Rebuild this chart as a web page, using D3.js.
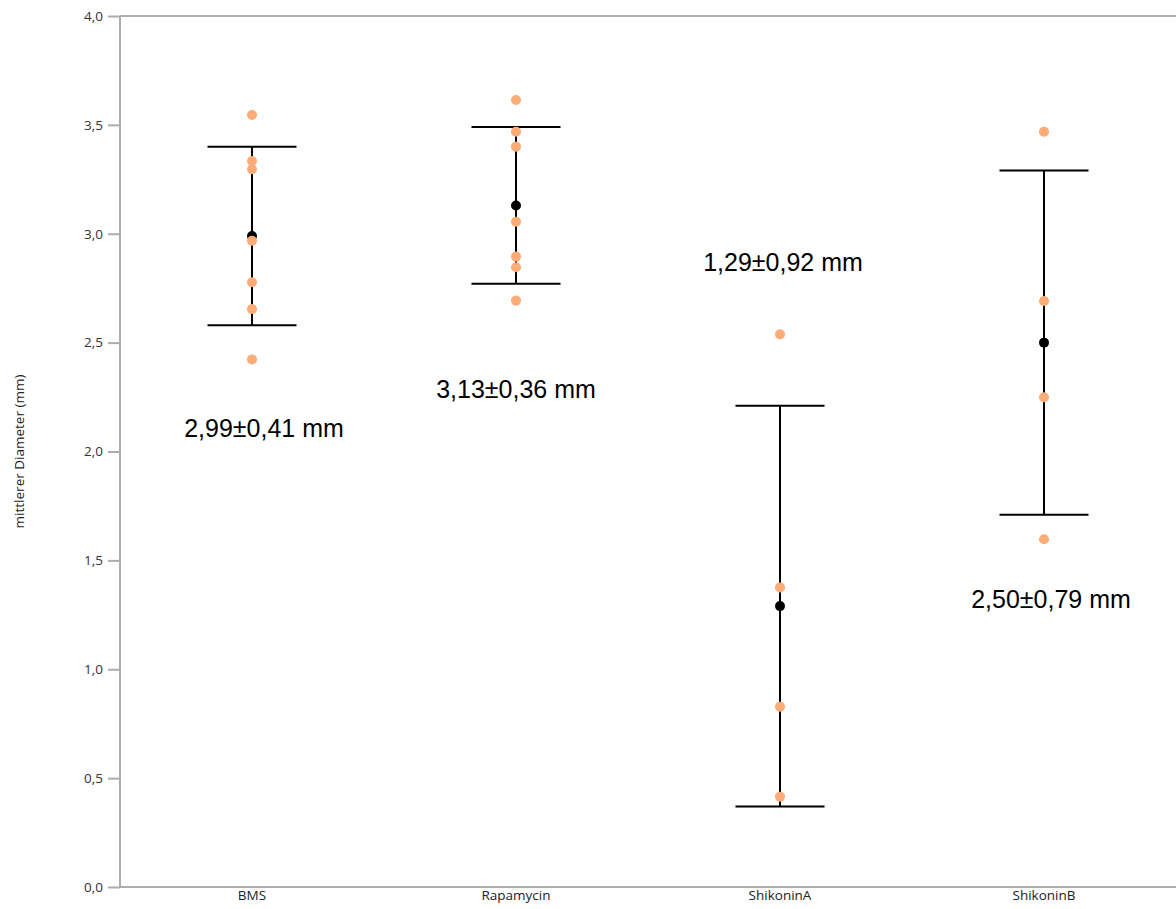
<!DOCTYPE html>
<html>
<head>
<meta charset="utf-8">
<script src="https://cdn.jsdelivr.net/npm/d3@7"></script>
<style>
  html, body { margin: 0; padding: 0; background: #fff; }
  svg { display: block; }
</style>
</head>
<body>
<svg id="chart" width="1176" height="909"></svg>
<script>
// Groups on the x axis
const categories = ["BMS", "Rapamycin", "ShikoninA", "ShikoninB"];

// Individual diameter measurements (mm) per group
const valuesBMS = [3.545, 3.334, 3.296, 2.968, 2.777, 2.654, 2.423];
const valuesRapamycin = [3.614, 3.469, 3.400, 3.055, 2.895, 2.846, 2.693];
const valuesShikoninA = [2.538, 1.376, 0.828, 0.415];
const valuesShikoninB = [3.469, 2.691, 2.249, 1.597];

// Group mean and standard deviation (mm)
const means = [2.99, 3.13, 1.29, 2.50];
const sds = [0.41, 0.36, 0.92, 0.79];

// Value (mm) at which each summary label's baseline sits
const labelAnchors = [2.066, 2.245, 2.83, 1.28];

// Y axis ticks
const yTicks = [0, 0.5, 1.0, 1.5, 2.0, 2.5, 3.0, 3.5, 4.0];
const yLabel = "mittlerer Diameter (mm)";

const groups = [valuesBMS, valuesRapamycin, valuesShikoninA, valuesShikoninB];
const labelDx = [12, 0, 3, 7];

const svg = d3.select("#chart");
const W = 1176, H = 909;
const mLeft = 120, mTop = 16, mBottom = 887;

const x = d3.scaleBand().domain(categories).range([mLeft, W]).padding(0);
const y = d3.scaleLinear().domain([0, 4]).range([mBottom, mTop]);
const cx = c => x(c) + x.bandwidth() / 2;

const fmt = v => d3.format(".2f")(v).replace(".", ",");
const tickFmt = v => d3.format(".1f")(v).replace(".", ",");
const axisColor = "#acacac";
const textFont = "'Open Sans', 'Noto Sans', sans-serif";

// Y axis
const yAxis = svg.append("g")
  .attr("transform", `translate(${mLeft},0)`)
  .call(d3.axisLeft(y).tickValues(yTicks).tickFormat(tickFmt).tickSize(12).tickPadding(5));
yAxis.selectAll("path, line").attr("stroke", axisColor).attr("stroke-width", 2);
yAxis.select(".domain").attr("d", `M0,${mTop}V${mBottom}`);
yAxis.selectAll("text")
  .attr("font-family", textFont)
  .attr("font-size", 13.5)
  .attr("fill", "#333");

// Horizontal frame lines at top and bottom of the value range
svg.append("g").selectAll("line")
  .data([0, 4])
  .join("line")
  .attr("x1", mLeft).attr("x2", W)
  .attr("y1", d => y(d)).attr("y2", d => y(d))
  .attr("stroke", axisColor).attr("stroke-width", 2);

// Category labels
svg.append("g").selectAll("text")
  .data(categories)
  .join("text")
  .attr("x", d => cx(d))
  .attr("y", 900)
  .attr("text-anchor", "middle")
  .attr("font-family", textFont)
  .attr("font-size", 13.5)
  .attr("fill", "#222")
  .text(d => d);

// Y axis title
svg.append("text")
  .attr("transform", `translate(24,${(mTop + mBottom) / 2}) rotate(-90)`)
  .attr("text-anchor", "middle")
  .attr("font-family", textFont)
  .attr("font-size", 13.5)
  .attr("fill", "#222")
  .text(yLabel);

// Error bars: mean ± SD
const capHalf = 44.5;
const eb = svg.append("g").attr("stroke", "#000").attr("stroke-width", 2);
categories.forEach((c, i) => {
  const hi = means[i] + sds[i], lo = means[i] - sds[i];
  eb.append("line").attr("x1", cx(c)).attr("x2", cx(c)).attr("y1", y(hi)).attr("y2", y(lo));
  eb.append("line").attr("x1", cx(c) - capHalf).attr("x2", cx(c) + capHalf).attr("y1", y(hi)).attr("y2", y(hi));
  eb.append("line").attr("x1", cx(c) - capHalf).attr("x2", cx(c) + capHalf).attr("y1", y(lo)).attr("y2", y(lo));
});

// Mean markers
svg.append("g").selectAll("circle")
  .data(categories)
  .join("circle")
  .attr("cx", d => cx(d))
  .attr("cy", (d, i) => y(means[i]))
  .attr("r", 5)
  .attr("fill", "#000");

// Individual measurements
const pts = [];
groups.forEach((vals, i) => vals.forEach(v => pts.push({ c: categories[i], v })));
svg.append("g").selectAll("circle")
  .data(pts)
  .join("circle")
  .attr("cx", d => cx(d.c))
  .attr("cy", d => y(d.v))
  .attr("r", 5)
  .attr("fill", "#fdab77");

// Summary labels
svg.append("g").selectAll("text")
  .data(categories)
  .join("text")
  .attr("x", (d, i) => cx(d) + labelDx[i])
  .attr("y", (d, i) => y(labelAnchors[i]))
  .attr("text-anchor", "middle")
  .attr("font-family", "'Liberation Sans', Arial, sans-serif")
  .attr("font-size", 25)
  .attr("fill", "#000")
  .text((d, i) => `${fmt(means[i])}±${fmt(sds[i])} mm`);
</script>
</body>
</html>
